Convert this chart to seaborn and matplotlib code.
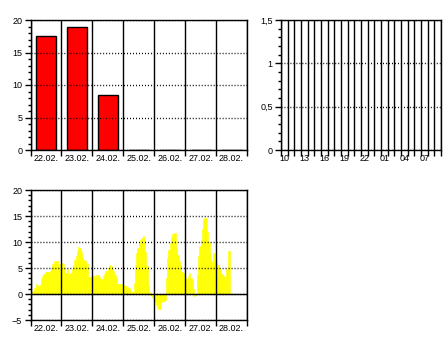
import numpy as np
import pandas as pd
import matplotlib
matplotlib.use("Agg")
import matplotlib.pyplot as plt
import seaborn as sns
from matplotlib.ticker import (FixedLocator, FixedFormatter, NullFormatter,
                               MultipleLocator, FuncFormatter)

# ---------------- data ----------------
days = ["22.02.", "23.02.", "24.02.", "25.02.", "26.02.", "27.02.", "28.02."]
rain_daily = [17.5, 19.0, 8.5, 0, 0, 0, 0]

hour_labels = ["10", "11", "12", "13", "14", "15", "16", "17", "18", "19", "20", "21",
               "22", "23", "00", "01", "02", "03", "04", "05", "06", "07", "08", "09"]
rain_hourly = [0] * 24

temp_22 = [0.3, 0.3, 0.5, 1.1, 1.9, 1.7, 1.6, 1.7, 2.8, 3.4, 3.9, 4.2,
           4.2, 4.2, 4.2, 4.5, 5.0, 5.7, 6.4, 6.4, 6.4, 5.8, 4.7, 5.8]
temp_23 = [6.0, 5.8, 5.0, 4.0, 4.8, 3.9, 3.7, 4.0, 4.8, 5.6, 6.6, 7.4,
           8.2, 9.1, 8.9, 8.0, 7.1, 6.5, 6.3, 5.8, 5.8, 3.3, 3.2, 3.2]
temp_24 = [3.4, 3.4, 3.4, 3.6, 3.6, 3.2, 2.9, 2.9, 3.4, 3.8, 4.4, 4.4,
           5.0, 5.6, 5.3, 4.8, 4.4, 3.7, 3.1, 2.0, 2.0, 2.0, 2.0, 2.0]
temp_25 = [1.8, 1.6, 1.5, 1.3, 1.1, 0.8, 0.4, 0.3, 2.2, 5.6, 7.9, 8.8,
           9.8, 10.3, 10.8, 11.2, 10.5, 8.0, 5.3, 1.8, 0.3, -0.2, -0.6, -1.0]
temp_26 = [-1.5, -2.2, -2.6, -2.9, -2.8, -1.5, -1.3, -1.4, -1.2, 3.0, 7.0, 8.5,
           9.8, 11.0, 11.6, 11.8, 11.8, 9.0, 7.5, 6.3, 5.5, 4.2, 4.0, 3.8]
temp_27 = [3.0, 2.8, 3.4, 4.0, 3.0, 2.7, 1.0, -0.3, -0.2, 3.6, 7.3, 9.2,
           10.3, 12.5, 14.5, 14.7, 14.7, 12.0, 10.0, 7.5, 6.3, 5.8, 7.9, 6.8]
temp_28 = [6.6, 5.6, 5.0, 4.7, 3.8, 3.4, 3.3, 3.3, 4.9, 8.2, 8.2]

temps = temp_22 + temp_23 + temp_24 + temp_25 + temp_26 + temp_27 + temp_28

# ---------------- style ----------------
sns.set_style("ticks")
plt.rcParams["font.family"] = ["Liberation Sans", "DejaVu Sans"]
plt.rcParams["font.size"] = 6.5
plt.rcParams["axes.linewidth"] = 1.0
plt.rcParams["axes.edgecolor"] = "black"
plt.rcParams["xtick.color"] = "black"
plt.rcParams["ytick.color"] = "black"

fig = plt.figure(figsize=(4.46, 3.40), dpi=100)
W, H = 446.0, 340.0


def axes_px(x0, y0, x1, y1):
    return fig.add_axes([x0 / W, 1 - y1 / H, (x1 - x0) / W, (y1 - y0) / H])


ax1 = axes_px(30.5, 20, 247, 150)
ax2 = axes_px(281, 20, 441, 150)
ax3 = axes_px(30.5, 190, 247, 320)

dot = (0, (0.7, 1.45))


def style_common(ax):
    for s in ax.spines.values():
        s.set_visible(True)
        s.set_color("black")
        s.set_linewidth(1.0)
    ax.set_xlabel("")
    ax.set_ylabel("")
    ax.tick_params(axis="both", which="major", direction="out", length=4,
                   width=1, labelsize=6.5, pad=2)
    ax.tick_params(axis="y", which="minor", direction="out", length=2, width=1)
    ax.tick_params(axis="x", which="minor", length=0, labelsize=6.5, pad=3)
    ax.set_axisbelow(False)


def cat_xaxis(ax, labels, label_every=1):
    n = len(labels)
    bounds = np.arange(n + 1) - 0.5
    centers = np.arange(0, n, label_every)
    ax.set_xlim(-0.5, n - 0.5)
    ax.xaxis.set_major_locator(FixedLocator(bounds))
    ax.xaxis.set_major_formatter(NullFormatter())
    ax.xaxis.set_minor_locator(FixedLocator(centers))
    ax.xaxis.set_minor_formatter(FixedFormatter([labels[i] for i in centers]))
    ax.grid(axis="x", which="major", color="black", linewidth=1.0, linestyle="-")


# ---- top-left: daily precipitation ----
df1 = pd.DataFrame({"day": days, "rain": rain_daily})
sns.barplot(data=df1, x="day", y="rain", order=days, color="red", saturation=1,
            edgecolor="black", linewidth=1.0, width=0.65, errorbar=None, ax=ax1)
style_common(ax1)
cat_xaxis(ax1, days)
ax1.set_ylim(0, 20)
ax1.yaxis.set_major_locator(MultipleLocator(5))
ax1.yaxis.set_minor_locator(MultipleLocator(1))
ax1.grid(axis="y", which="major", color="black", linewidth=1.0, linestyle=dot)

# ---- top-right: hourly precipitation ----
df2 = pd.DataFrame({"hour": hour_labels, "rain": rain_hourly})
sns.barplot(data=df2, x="hour", y="rain", order=hour_labels, color="red",
            saturation=1, linewidth=0, width=0.65, errorbar=None, ax=ax2)
style_common(ax2)
cat_xaxis(ax2, hour_labels, label_every=3)
ax2.set_ylim(0, 1.5)
ax2.yaxis.set_major_locator(MultipleLocator(0.5))
ax2.yaxis.set_minor_locator(MultipleLocator(0.1))
ax2.yaxis.set_major_formatter(FuncFormatter(lambda v, p: f"{v:g}".replace(".", ",")))
ax2.grid(axis="y", which="major", color="black", linewidth=1.0, linestyle=dot)

# ---- bottom: hourly temperature ----
df3 = pd.DataFrame({"t": (np.arange(len(temps)) + 0.5) / 24.0, "temp": temps})
sns.barplot(data=df3, x="t", y="temp", native_scale=True, orient="x",
            color="yellow", saturation=1, edgecolor="yellow", linewidth=0.4,
            width=1, errorbar=None, ax=ax3)
style_common(ax3)
ax3.set_xlim(0, 7)
ax3.xaxis.set_major_locator(FixedLocator(np.arange(8)))
ax3.xaxis.set_major_formatter(NullFormatter())
ax3.xaxis.set_minor_locator(FixedLocator(np.arange(7) + 0.5))
ax3.xaxis.set_minor_formatter(FixedFormatter(days))
ax3.grid(axis="x", which="major", color="black", linewidth=1.0, linestyle="-")
ax3.set_ylim(-5, 20)
ax3.yaxis.set_major_locator(MultipleLocator(5))
ax3.yaxis.set_minor_locator(MultipleLocator(1))
ax3.grid(axis="y", which="major", color="black", linewidth=1.0, linestyle=dot)
ax3.axhline(0, color="black", linewidth=1.0)
ax3.tick_params(axis="x", which="minor", length=0, labelsize=6.5, pad=3)

fig.savefig("out.png", dpi=100)
